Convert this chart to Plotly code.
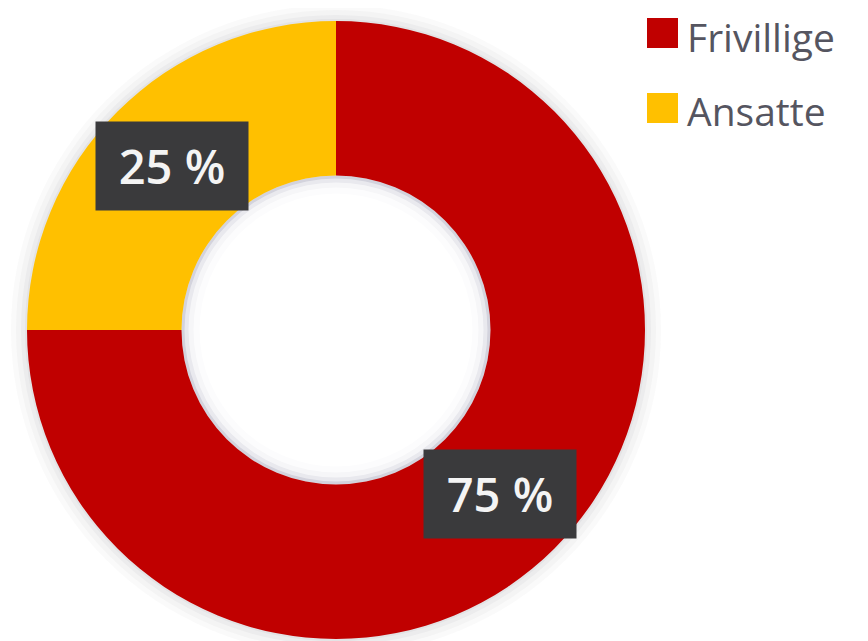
import math
import plotly.graph_objects as go

labels = ["Frivillige", "Ansatte"]
values = [75, 25]
colors = ["#C00000", "#FFC000"]
text_labels = ["75 %", "25 %"]

W, H = 868, 641
OFF = 8  # page body margin of the browser


def fx(X):
    return (X - OFF) / W


def fy(Y):
    return 1 - (Y - OFF) / H


hole = 0.5
CX, CY, R = 336, 330, 309  # target centre/radius on screen
dom_x = [fx(CX - R), fx(CX + R)]
dom_y = [fy(CY + R), fy(CY - R)]

fig = go.Figure()
fig.add_trace(go.Pie(
    labels=labels, values=values, hole=hole, sort=False,
    direction="clockwise", rotation=0,
    marker=dict(colors=colors, line=dict(width=0)),
    textinfo="none", hoverinfo="label+percent",
    domain=dict(x=dom_x, y=dom_y), showlegend=False,
))

# pie geometry from the domain
cx = (dom_x[0] + dom_x[1]) / 2 * W
cy = (dom_y[0] + dom_y[1]) / 2 * H
rad = min((dom_x[1] - dom_x[0]) * W, (dom_y[1] - dom_y[0]) * H) / 2
rmid = rad * (1 + hole) / 2

shapes = []
# soft outer shadow
for k, a in [(16, 0.03), (11, 0.04), (6, 0.05), (2, 0.06)]:
    shapes.append(dict(type="circle", xref="paper", yref="paper", layer="below",
                       x0=(cx - rad - k) / W, x1=(cx + rad + k) / W,
                       y0=(cy - rad - k) / H, y1=(cy + rad + k) / H,
                       fillcolor=f"rgba(90,90,110,{a})", line=dict(width=0)))
# soft inner shadow in the hole
rh = rad * hole
shapes.append(dict(type="circle", xref="paper", yref="paper", layer="below",
                   x0=(cx - rh) / W, x1=(cx + rh) / W, y0=(cy - rh) / H, y1=(cy + rh) / H,
                   fillcolor="rgba(200,200,215,0.6)", line=dict(width=0)))
for k, a in [(3, 0.5), (7, 0.6), (12, 0.7), (18, 0.85), (26, 1.0)]:
    shapes.append(dict(type="circle", xref="paper", yref="paper", layer="below",
                       x0=(cx - rh + k) / W, x1=(cx + rh - k) / W,
                       y0=(cy - rh + k) / H, y1=(cy + rh - k) / H,
                       fillcolor=f"rgba(255,255,255,{a})", line=dict(width=0)))

annotations = []
total = sum(values)
cum = 0
for v, t in zip(values, text_labels):
    mid = (cum + v / 2) / total * 2 * math.pi
    cum += v
    px = cx + rmid * math.sin(mid)
    py = cy + rmid * math.cos(mid)
    annotations.append(dict(
        x=px / W, y=py / H, xref="paper", yref="paper", text=t,
        showarrow=False, bgcolor="#3A3A3C", width=150, height=86,
        font=dict(family="Open Sans, sans-serif", size=47, color="#F4F4F4", weight=600),
        xanchor="center", yanchor="middle",
    ))

# legend (colour squares + labels)
for i, (lab, col) in enumerate(zip(labels, colors)):
    yc = 33 + i * 75
    shapes.append(dict(type="rect", xref="paper", yref="paper",
                       x0=fx(647), x1=fx(678), y0=fy(yc + 15), y1=fy(yc - 15),
                       fillcolor=col, line=dict(width=0)))
    annotations.append(dict(
        x=fx(686), y=fy(yc + 3), xref="paper", yref="paper",
        text=lab, showarrow=False, xanchor="left", yanchor="middle",
        borderpad=0,
        font=dict(family="Open Sans, sans-serif", size=39, color="#555560"),
    ))

fig.update_layout(
    width=W, height=H, margin=dict(l=0, r=0, t=0, b=0),
    paper_bgcolor="white", plot_bgcolor="white",
    annotations=annotations, shapes=shapes,
)
fig.write_html("out.html")
